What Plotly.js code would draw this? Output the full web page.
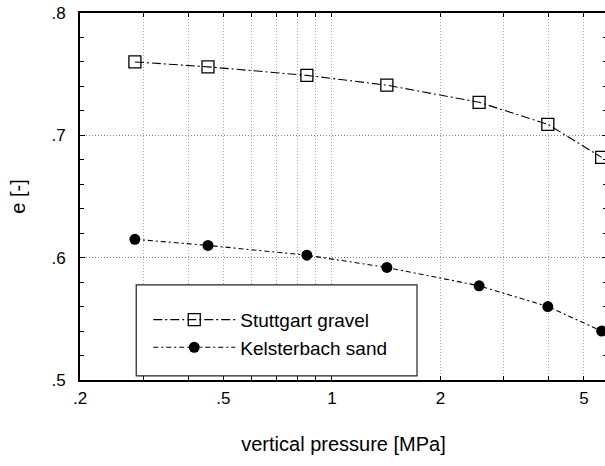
<!DOCTYPE html>
<html>
<head>
<meta charset="utf-8">
<script src="https://cdn.plot.ly/plotly-3.0.1.min.js"></script>
<style>html,body{margin:0;padding:0;overflow:hidden;background:#fff;}#chart{width:607px;height:466px;}</style>
</head>
<body>
<div id="chart"></div>
<script>
// Data
var pressure = [0.284, 0.453, 0.852, 1.42, 2.56, 3.97, 5.6];
var gravelE  = [0.760, 0.756, 0.749, 0.741, 0.727, 0.709, 0.682];
var sandE    = [0.615, 0.610, 0.602, 0.592, 0.577, 0.560, 0.540];
var seriesNames = ["Stuttgart gravel", "Kelsterbach sand"];

// Axis ticks
var xTickVals = [0.2, 0.3, 0.4, 0.5, 0.6, 0.7, 0.8, 0.9, 1, 2, 3, 4, 5];
var xTickText = [".2", "", "", ".5", "", "", "", "", "1", "2", "", "", "5"];
var yTickVals = [0.5, 0.6, 0.7, 0.8];
var yTickText = [".5", ".6", ".7", ".8"];

var FONT = "Liberation Sans, Arial, Helvetica, sans-serif";

var traces = [
  {
    x: pressure, y: gravelE, name: seriesNames[0], type: "scatter", mode: "lines+markers",
    line: {color: "#000", width: 1.1, dash: "9px,3px,2px,3px"},
    marker: {symbol: "square-open", size: 12, color: "#000", line: {width: 1.3, color: "#000"}},
    cliponaxis: true
  },
  {
    x: pressure, y: sandE, name: seriesNames[1], type: "scatter", mode: "lines+markers",
    line: {color: "#000", width: 1.1, dash: "5px,3px,2px,3px"},
    marker: {symbol: "circle", size: 11, color: "#000"},
    cliponaxis: true
  }
];

var layout = {
  width: 607, height: 466,
  margin: {l: 80, r: 0, t: 13, b: 86, pad: 0},
  paper_bgcolor: "#fff", plot_bgcolor: "#fff",
  font: {family: FONT, color: "#000", size: 17},
  showlegend: true,
  legend: {
    x: 0.1295, y: 0.216, xanchor: "left", yanchor: "top",
    bgcolor: "rgba(0,0,0,0)", borderwidth: 0,
    font: {family: FONT, size: 19, color: "#000"},
    itemwidth: 82, tracegroupgap: 0
  },
  shapes: [
    {type: "rect", xref: "paper", yref: "paper", x0: 0.1067, x1: 0.6395, y0: 0.011, y1: 0.259,
     line: {color: "#222", width: 1.2}, fillcolor: "#fff", layer: "above"}
  ],
  xaxis: {
    type: "log",
    range: [Math.log10(0.2), 0.763],
    tickmode: "array", tickvals: xTickVals, ticktext: xTickText,
    ticks: "inside", ticklen: 4, tickwidth: 1, tickcolor: "#000",
    showline: true, linewidth: 2, linecolor: "#000", mirror: "allticks",
    showgrid: true, gridcolor: "#a8a8a8", griddash: "1px,2px", gridwidth: 1,
    zeroline: false,
    tickfont: {family: FONT, size: 17},
    ticklabelstandoff: 2,
    title: {text: "vertical pressure [MPa]", font: {family: FONT, size: 20}, standoff: 30}
  },
  yaxis: {
    range: [0.5, 0.8],
    tickmode: "array", tickvals: yTickVals, ticktext: yTickText,
    ticks: "inside", ticklen: 5, tickwidth: 1, tickcolor: "#000",
    minor: {tickmode: "linear", tick0: 0.5, dtick: 0.02, ticks: "inside", ticklen: 4, tickcolor: "#000", showgrid: false},
    showline: true, linewidth: 2, linecolor: "#000", mirror: "allticks",
    showgrid: true, gridcolor: "#808080", griddash: "1px,2px", gridwidth: 1,
    zeroline: false,
    tickfont: {family: FONT, size: 17},
    ticklabelstandoff: 9,
    title: {text: "e [-]", font: {family: FONT, size: 20}, standoff: 20}
  }
};

Plotly.newPlot("chart", traces, layout, {displayModeBar: false, staticPlot: true});
</script>
</body>
</html>
